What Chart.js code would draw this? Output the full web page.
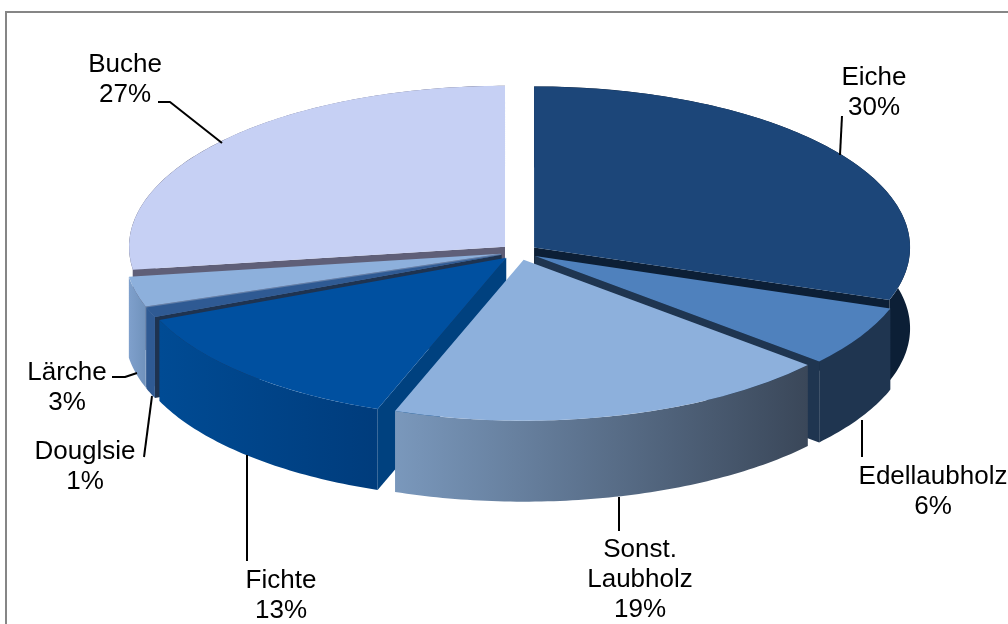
<!DOCTYPE html>
<html>
<head>
<meta charset="utf-8">
<style>html,body{margin:0;padding:0;background:#fff}canvas{display:block}</style>
<script src="https://cdn.jsdelivr.net/npm/chart.js@4"></script>
</head>
<body>
<canvas id="c" width="1008" height="624"></canvas>
<script>
const categories = ['Eiche','Edellaubholz','Sonst. Laubholz','Fichte','Douglsie','Lärche','Buche'];
const shares = [30,6,19,13,1,3,27];

const topColours   = ['#1c4679','#4f81bd','#8db0dc','#0050a0','#2f5a93','#8db0dc','#c6d0f4'];
const wallLeft     = ['#0c1f36','#1f3550','#7a98bc','#004b94','#2f5a93','#7fa0cc','#5f5f78'];
const wallRight    = ['#0c1f36','#1f3550','#3a4759','#003c7c','#2f5a93','#7092bc','#5f5f78'];
const faceColours  = ['#0c1f36','#1f3550','#3a4759','#00417f','#1e3350','#5f7da8','#5f5f78'];
const paintOrder   = [6,5,4,0,1,3,2];

const GEOM = {cx:519, cy:252, rx:376, ry:161, depth:81, explode:18.5};

const labelLayout = [
  {lines:['Eiche','30%'], x:874, y:85, leader:[[842,116],[840,155]]},
  {lines:['Edellaubholz','6%'], x:933, y:484, leader:[[862,420],[862,457]]},
  {lines:['Sonst.','Laubholz','19%'], x:640, y:557, leader:[[619,497],[619,531]]},
  {lines:['Fichte','13%'], x:281, y:588, leader:[[247,455],[247,561]]},
  {lines:['Douglsie','1%'], x:85, y:459, leader:[[152,396],[144,457]]},
  {lines:['Lärche','3%'], x:67, y:380, leader:[[112,377],[125,377],[137,373]]},
  {lines:['Buche','27%'], x:125, y:72, leader:[[158,102],[170,102],[222,143]]}
];

const pie3d = {
  id:'pie3d',
  beforeDatasetsDraw(chart){
    const ctx = chart.ctx, g = GEOM;
    const arcs = chart.getDatasetMeta(0).data;
    // frame
    ctx.save();
    ctx.strokeStyle = '#868686'; ctx.lineWidth = 2;
    ctx.strokeRect(6,12,1200,800);
    ctx.restore();

    const R = arcs[0].outerRadius;
    const sx = g.rx/R, sy = g.ry/R;
    const shift = a => { const h=(a.startAngle+a.endAngle)/2;
      return {x:g.cx+g.explode*Math.cos(h), y:g.cy+g.explode*(g.ry/g.rx)*Math.sin(h)}; };
    const rim = (o,t,d) => [o.x+g.rx*Math.cos(t), o.y+g.ry*Math.sin(t)+d];

    // side walls, back to front
    paintOrder.forEach(i=>{
      const a = arcs[i], o = shift(a), s = a.startAngle, e = a.endAngle;
      const face = t=>{
        const p=rim(o,t,0);
        ctx.beginPath(); ctx.moveTo(o.x,o.y); ctx.lineTo(p[0],p[1]);
        ctx.lineTo(p[0],p[1]+g.depth); ctx.lineTo(o.x,o.y+g.depth); ctx.closePath();
        ctx.fillStyle=faceColours[i]; ctx.fill();
      };
      if(Math.cos(s)<-0.02) face(s);
      if(Math.cos(e)>0.02) face(e);
      const n=Math.max(8,Math.ceil((e-s)*60)), top=[], xs=[];
      for(let k=0;k<=n;k++){ const t=s+(e-s)*k/n; const p=rim(o,t,0); top.push(p); xs.push(p[0]); }
      const x0=Math.min(...xs), x1=Math.max(...xs);
      const grad=ctx.createLinearGradient(x0,0,x1,0);
      grad.addColorStop(0,wallLeft[i]); grad.addColorStop(1,wallRight[i]);
      ctx.beginPath();
      top.forEach((p,k)=>k?ctx.lineTo(p[0],p[1]):ctx.moveTo(p[0],p[1]));
      for(let k=n;k>=0;k--) ctx.lineTo(top[k][0],top[k][1]+g.depth);
      ctx.closePath(); ctx.fillStyle=grad; ctx.fill();
    });

    // tops: the library's own arc elements, tilted and pulled apart
    arcs.forEach(a=>{
      const o=shift(a);
      ctx.save();
      ctx.translate(o.x,o.y); ctx.scale(sx,sy); ctx.translate(-a.x,-a.y);
      a.draw(ctx);
      ctx.restore();
    });
    return false;
  },
  afterDraw(chart){
    const ctx=chart.ctx;
    ctx.save();
    ctx.strokeStyle='#000'; ctx.lineWidth=2; ctx.lineJoin='round';
    ctx.fillStyle='#000'; ctx.textAlign='center'; ctx.textBaseline='alphabetic';
    ctx.font='26px "Liberation Sans", Arial, sans-serif';
    labelLayout.forEach(l=>{
      ctx.beginPath();
      l.leader.forEach((p,k)=>k?ctx.lineTo(p[0],p[1]):ctx.moveTo(p[0],p[1]));
      ctx.stroke();
      l.lines.forEach((t,k)=>ctx.fillText(t,l.x,l.y+k*30));
    });
    ctx.restore();
  }
};

new Chart(document.getElementById('c'),{
  type:'pie',
  data:{labels:categories,datasets:[{data:shares,backgroundColor:topColours,borderWidth:0,borderColor:'transparent'}]},
  options:{
    responsive:false,animation:false,
    layout:{padding:0},
    plugins:{legend:{display:false},tooltip:{enabled:false},title:{display:false}}
  },
  plugins:[pie3d]
});
</script>
</body>
</html>
